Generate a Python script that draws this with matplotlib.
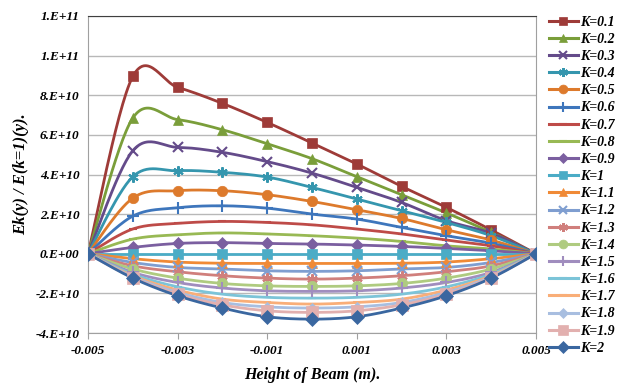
import numpy as np
import matplotlib
matplotlib.use("Agg")
import matplotlib.pyplot as plt
from matplotlib.lines import Line2D

x = [-0.005, -0.004, -0.003, -0.002, -0.001, 0.0, 0.001, 0.002, 0.003, 0.004, 0.005]
labels = ["K=0.1", "K=0.2", "K=0.3", "K=0.4", "K=0.5", "K=0.6", "K=0.7", "K=0.8", "K=0.9", "K=1",
          "K=1.1", "K=1.2", "K=1.3", "K=1.4", "K=1.5", "K=1.6", "K=1.7", "K=1.8", "K=1.9", "K=2"]

# values in units of 1E+10
k01 = [0, 8.95, 8.40, 7.59, 6.63, 5.59, 4.53, 3.40, 2.34, 1.20, 0]
k02 = [0, 6.85, 6.77, 6.26, 5.55, 4.80, 3.89, 2.98, 2.06, 1.08, 0]
k03 = [0, 5.20, 5.37, 5.12, 4.65, 4.07, 3.35, 2.59, 1.67, 1.03, 0]
k04 = [0, 3.89, 4.19, 4.11, 3.87, 3.35, 2.76, 2.17, 1.58, 0.91, 0]
k05 = [0, 2.81, 3.18, 3.18, 2.98, 2.64, 2.22, 1.78, 1.21, 0.69, 0]
k06 = [0, 1.90, 2.32, 2.42, 2.30, 2.00, 1.75, 1.33, 0.91, 0.53, 0]
k07 = [0, 1.25, 1.53, 1.63, 1.58, 1.46, 1.25, 1.00, 0.69, 0.40, 0]
k08 = [0, 0.74, 0.96, 1.05, 1.00, 0.91, 0.79, 0.62, 0.40, 0.24, 0]
k09 = [0, 0.32, 0.52, 0.56, 0.52, 0.49, 0.44, 0.37, 0.27, 0.15, 0]
k10 = [0, 0, 0, 0, 0, 0, 0, 0, 0, 0, 0]
k11 = [0, -0.25, -0.42, -0.48, -0.49, -0.49, -0.49, -0.48, -0.42, -0.25, 0]
k12 = [0, -0.44, -0.69, -0.77, -0.86, -0.89, -0.86, -0.77, -0.69, -0.44, 0]
k13 = [0, -0.61, -0.91, -1.11, -1.23, -1.28, -1.23, -1.11, -0.91, -0.61, 0]
k14 = [0, -0.77, -1.23, -1.50, -1.62, -1.65, -1.62, -1.50, -1.23, -0.77, 0]
k15 = [0, -0.94, -1.45, -1.73, -1.87, -1.90, -1.87, -1.73, -1.45, -0.94, 0]
k16 = [0, -1.03, -1.67, -2.04, -2.20, -2.24, -2.20, -2.04, -1.67, -1.03, 0]
k17 = [0, -1.11, -1.83, -2.29, -2.46, -2.54, -2.46, -2.29, -1.83, -1.11, 0]
k18 = [0, -1.16, -1.95, -2.46, -2.68, -2.74, -2.68, -2.46, -1.95, -1.16, 0]
k19 = [0, -1.20, -2.04, -2.58, -2.88, -2.96, -2.88, -2.58, -2.04, -1.20, 0]
k20 = [0, -1.23, -2.12, -2.74, -3.18, -3.30, -3.18, -2.74, -2.12, -1.23, 0]
series = [k01, k02, k03, k04, k05, k06, k07, k08, k09, k10,
          k11, k12, k13, k14, k15, k16, k17, k18, k19, k20]
scale = 1e10

colors = ["#9E3B38", "#7A9E3A", "#644B8A", "#3596AE", "#DD7A2C", "#3E76BC", "#BE4B48", "#98B954",
          "#7B5FA0", "#4BACC6", "#F08A36", "#7F9ED0", "#D07F7C", "#AFCB80", "#A08DBE", "#7CC4D8",
          "#F9AE78", "#A8BEE0", "#E2B0AF", "#3A67A0"]
asterisk = (6, 2, 0)
markers = ["s", "^", "x", asterisk, "o", "+", "_", "_", "D", "s",
           "^", "x", asterisk, "o", "+", "_", "_", "D", "s", "D"]
msizes = [7.5, 7.5, 7.5, 7.5, 7.5, 8.5, 6, 6, 6.5, 7.5, 6.5, 7.5, 7.5, 7.5, 8.5, 6, 6, 5.5, 8, 7.5]

yticks = [-4e10, -2e10, 0, 2e10, 4e10, 6e10, 8e10, 1e11, 1.2e11]
ytick_labels = ["-4.E+10", "-2.E+10", "0.E+00", "2.E+10", "4.E+10", "6.E+10", "8.E+10", "1.E+11", "1.E+11"]
xticks = [-0.005, -0.003, -0.001, 0.001, 0.003, 0.005]
xtick_labels = ["-0.005", "-0.003", "-0.001", "0.001", "0.003", "0.005"]


def smooth(xs, ys, n=30):
    xs = np.asarray(xs, float); ys = np.asarray(ys, float)
    px = np.concatenate([[xs[0]], xs, [xs[-1]]])
    py = np.concatenate([[ys[0]], ys, [ys[-1]]])
    ox, oy = [], []
    t = np.linspace(0, 1, n)
    for i in range(1, len(px) - 2):
        p0 = np.array([px[i], py[i]]); p3 = np.array([px[i + 1], py[i + 1]])
        p1 = p0 + (np.array([px[i + 1], py[i + 1]]) - np.array([px[i - 1], py[i - 1]])) / 6
        p2 = p3 - (np.array([px[i + 2], py[i + 2]]) - np.array([px[i], py[i]])) / 6
        b = ((1 - t) ** 3)[:, None] * p0 + (3 * (1 - t) ** 2 * t)[:, None] * p1 + \
            (3 * (1 - t) * t ** 2)[:, None] * p2 + (t ** 3)[:, None] * p3
        ox.extend(b[:, 0]); oy.extend(b[:, 1])
    return np.array(ox), np.array(oy)


font = ["Liberation Serif", "DejaVu Serif"]
fig = plt.figure(figsize=(6.24, 3.92), dpi=100)
ax = fig.add_axes([88 / 624, 59 / 392, 448 / 624, 317 / 392])

handles = []
for ys, c, m, ms, lab in zip(series, colors, markers, msizes, labels):
    yv = [v * scale for v in ys]
    sx, sy = smooth(x, yv)
    ax.plot(sx, sy, color=c, lw=2.0, solid_capstyle="round", zorder=2)
    mew = 1.5 if m in ("x", "+", "_", asterisk) else 0.5
    ax.plot(x, yv, ls="none", marker=m, ms=ms, color=c, mec=c, mew=mew, zorder=3)
    handles.append(Line2D([0], [0], color=c, lw=2.2, marker=m, ms=ms * 0.85, mec=c, mew=mew, label=lab))

ax.set_xlim(-0.005, 0.005)
ax.set_ylim(-4e10, 1.2e11)
ax.set_yticks(yticks)
ax.set_yticklabels(ytick_labels)
ax.set_xticks(xticks)
ax.set_xticklabels(xtick_labels)
ax.yaxis.grid(True, color="#B8B8B8", lw=1.0)
ax.set_axisbelow(True)
ax.tick_params(axis="y", length=0, pad=6)
ax.tick_params(axis="x", length=4, color="#A0A0A0", pad=5)
for lab in ax.get_xticklabels() + ax.get_yticklabels():
    lab.set_fontfamily(font)
    lab.set_fontstyle("italic")
    lab.set_fontweight("bold")
    lab.set_fontsize(9.5)
for s in ["left", "right", "bottom"]:
    ax.spines[s].set_color("#A0A0A0")
ax.spines["top"].set_color("#404040")

ax.set_xlabel("Height of Beam (m).", fontfamily=font, fontstyle="italic", fontweight="bold",
              fontsize=11.5, labelpad=7)
ax.set_ylabel("Ek(y) / E(k=1)(y).", fontfamily=font, fontstyle="italic", fontweight="bold",
              fontsize=12, labelpad=5)

leg = fig.legend(handles=handles, loc="upper left", bbox_to_anchor=(543 / 624, 1 - 10 / 392),
                 frameon=False, handlelength=2.1, handletextpad=0.15, labelspacing=0.30,
                 borderaxespad=0, prop={"family": font, "style": "italic", "weight": "bold", "size": 10})

fig.savefig("out.png", dpi=100)
